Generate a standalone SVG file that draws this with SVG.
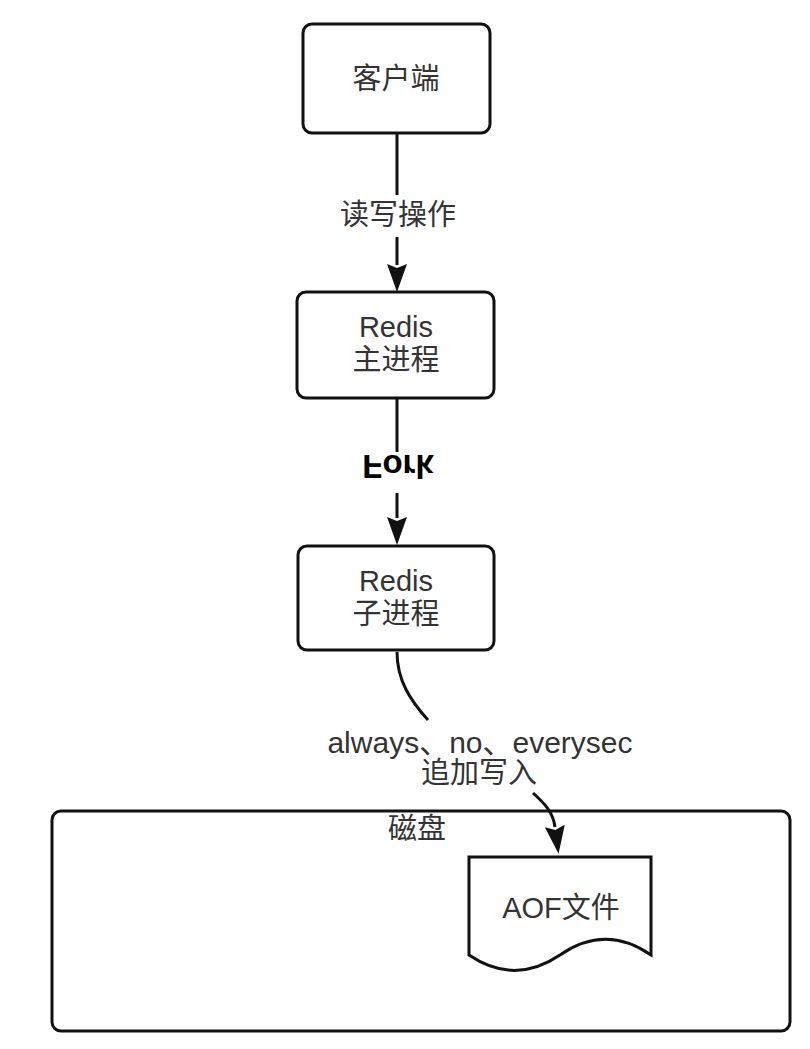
<svg xmlns="http://www.w3.org/2000/svg" width="810" height="1049" viewBox="0 0 810 1049">
<style>
  .box { fill: #ffffff; stroke: #111111; stroke-width: 3; }
  .edge { fill: none; stroke: #111111; stroke-width: 3; }
  .lbl { font-family: "Liberation Sans", "Noto Sans CJK SC", sans-serif; font-size: 29px; fill: #333333; text-anchor: middle; dominant-baseline: central; }
  .wide { font-size: 30px; }
  .fork { font-family: "Liberation Sans", "Noto Sans CJK SC", sans-serif; font-size: 33px; font-weight: bold; fill: #000000; text-anchor: middle; }
</style>
<defs>
  <marker id="arrow" viewBox="0 0 28 20" refX="1" refY="10" markerWidth="28" markerHeight="20" markerUnits="userSpaceOnUse" orient="auto">
    <path d="M0,0 L28,10 L0,20 L4,10 Z" fill="#111111"/>
  </marker>
</defs>
<rect width="810" height="1049" fill="#ffffff"/>

<g id="disk">
  <rect class="box" x="52" y="811" width="738" height="220" rx="9"/>
  <text class="lbl" x="417" y="829">磁盘</text>
</g>

<g id="client">
  <rect class="box" x="303" y="24" width="187" height="109" rx="9"/>
  <text class="lbl" x="396" y="79">客户端</text>
</g>

<g id="redis-main">
  <rect class="box" x="297" y="292" width="197" height="106" rx="9"/>
  <text class="lbl" x="396" y="327">Redis</text>
  <text class="lbl" x="396" y="360">主进程</text>
</g>

<g id="redis-child">
  <rect class="box" x="298" y="546" width="196" height="104" rx="9"/>
  <text class="lbl" x="396" y="581">Redis</text>
  <text class="lbl" x="396" y="614">子进程</text>
</g>

<g id="aof">
  <path class="box" d="M469,857 H651 V955 Q605.5,923.6 560,955 Q514.5,985.8 469,955 Z"/>
  <text class="lbl" x="561" y="908">AOF文件</text>
</g>

<g id="connectors">
  <path class="edge" d="M397,133 V195"/>
  <path class="edge" d="M397,237 V265" marker-end="url(#arrow)"/>
  <text class="lbl" x="398" y="215">读写操作</text>

  <path class="edge" d="M397,398 V452"/>
  <path class="edge" d="M397,493 V518" marker-end="url(#arrow)"/>
  <text class="fork" transform="matrix(1,0,0,-1,398,455)" x="0" y="0">Fork</text>

  <path class="edge" d="M397,652 C397,680 410,700 428,720"/>
  <path class="edge" d="M533,793 C545,804 553,812 555,827" marker-end="url(#arrow)"/>
  <text class="lbl wide" x="480" y="742">always、no、everysec</text>
  <text class="lbl" x="479" y="773">追加写入</text>
</g>
</svg>
